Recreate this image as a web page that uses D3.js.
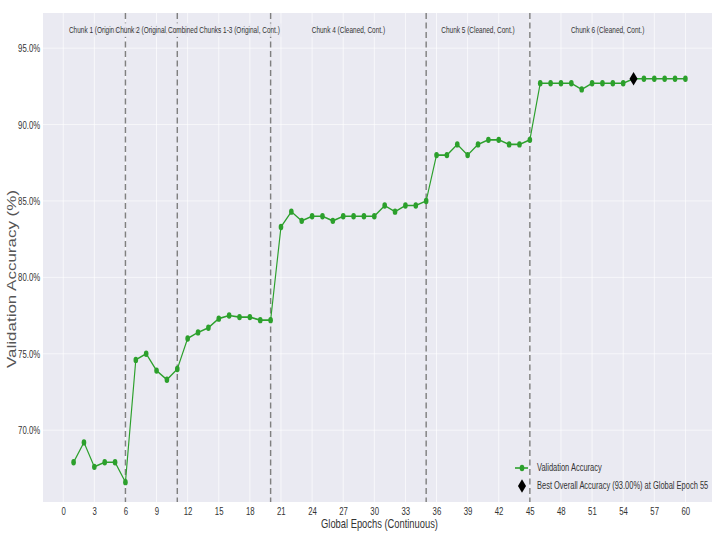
<!DOCTYPE html>
<html>
<head>
<meta charset="utf-8">
<script src="https://cdn.jsdelivr.net/npm/d3@7"></script>
<style>
  html, body { margin: 0; padding: 0; background: #ffffff; }
  svg { display: block; font-family: "Liberation Sans", Arial, sans-serif; }
</style>
</head>
<body>
<svg id="chart" width="712" height="534"></svg>
<script>
// Global epoch index (continuous across all chunks)
const epochs = [
  1, 2, 3, 4, 5, 6,
  7, 8, 9, 10, 11,
  12, 13, 14, 15, 16, 17, 18, 19, 20,
  21, 22, 23, 24, 25, 26, 27, 28, 29, 30, 31, 32, 33, 34, 35,
  36, 37, 38, 39, 40, 41, 42, 43, 44, 45,
  46, 47, 48, 49, 50, 51, 52, 53, 54, 55, 56, 57, 58, 59, 60
];

// Validation accuracy (%) per global epoch
const accuracy = [
  67.9, 69.2, 67.6, 67.9, 67.9, 66.6,
  74.6, 75.0, 73.9, 73.3, 74.0,
  76.0, 76.4, 76.7, 77.3, 77.5, 77.4, 77.4, 77.2, 77.2,
  83.3, 84.3, 83.7, 84.0, 84.0, 83.7, 84.0, 84.0, 84.0, 84.0, 84.7, 84.3, 84.7, 84.7, 85.0,
  88.0, 88.0, 88.7, 88.0, 88.7, 89.0, 89.0, 88.7, 88.7, 89.0,
  92.7, 92.7, 92.7, 92.7, 92.3, 92.7, 92.7, 92.7, 92.7, 93.0, 93.0, 93.0, 93.0, 93.0, 93.0
];

// Last global epoch of each training chunk (dashed separators)
const chunkEnds = [6, 11, 20, 35, 45];

const chunkLabels = [
  "Chunk 1 (Original, Cont.)",
  "Chunk 2 (Original, Cont.)",
  "Combined Chunks 1-3 (Original, Cont.)",
  "Chunk 4 (Cleaned, Cont.)",
  "Chunk 5 (Cleaned, Cont.)",
  "Chunk 6 (Cleaned, Cont.)"
];
const chunkLabelEpochs = [4, 8.5, 15.5, 27.5, 40, 52.5];

const xTicks = [0, 3, 6, 9, 12, 15, 18, 21, 24, 27, 30, 33, 36, 39, 42, 45, 48, 51, 54, 57, 60];
const yTicks = [70, 75, 80, 85, 90, 95];

const seriesName = "Validation Accuracy";
const xTitle = "Global Epochs (Continuous)";
const yTitle = "Validation Accuracy (%)";

// ---- layout ----
// The figure is drawn in a wider coordinate space and compressed horizontally.
const K = 0.72;
const plot = { left: 43 / K, right: 716 / K, top: 13, bottom: 502 };

const svg = d3.select("#chart");
const root = svg.append("g").attr("transform", `scale(${K},1)`);

const x = d3.scaleLinear().domain([-1.95, 62.95]).range([plot.left, plot.right]);
const y = d3.scaleLinear().domain([65.3, 97.3]).range([plot.bottom, plot.top]);

const data = epochs.map((e, i) => ({ epoch: e, acc: accuracy[i] }));
const best = data.reduce((a, b) => (b.acc > a.acc ? b : a));

const green = "#2ca02c";
const textColor = "#333333";

// plot background
root.append("rect")
  .attr("x", plot.left).attr("y", plot.top)
  .attr("width", plot.right - plot.left).attr("height", plot.bottom - plot.top)
  .attr("fill", "#eaeaf2");

// grid
root.append("g").selectAll("line").data(xTicks).join("line")
  .attr("x1", d => x(d)).attr("x2", d => x(d))
  .attr("y1", plot.top).attr("y2", plot.bottom)
  .attr("stroke", "#ffffff").attr("stroke-width", 1.3).attr("stroke-opacity", 0.7);
root.append("g").selectAll("line").data(yTicks).join("line")
  .attr("x1", plot.left).attr("x2", plot.right)
  .attr("y1", d => y(d)).attr("y2", d => y(d))
  .attr("stroke", "#ffffff").attr("stroke-width", 1).attr("stroke-opacity", 0.7);

// axes
const xAxis = root.append("g")
  .attr("transform", `translate(0,${plot.bottom})`)
  .call(d3.axisBottom(x).tickValues(xTicks).tickSize(0).tickPadding(5));
const yAxis = root.append("g")
  .attr("transform", `translate(${plot.left},0)`)
  .call(d3.axisLeft(y).tickValues(yTicks).tickSize(0).tickPadding(4)
    .tickFormat(d => d.toFixed(1) + "%"));
[xAxis, yAxis].forEach(g => {
  g.select(".domain").remove();
  g.attr("font-family", null).attr("font-size", null);
  g.selectAll("text").attr("fill", textColor).attr("font-size", 10.8);
});

// axis titles
root.append("text")
  .attr("x", (plot.left + plot.right) / 2).attr("y", 528)
  .attr("text-anchor", "middle").attr("font-size", 13).attr("fill", textColor)
  .text(xTitle);
root.append("text")
  .attr("transform", `translate(${12 / K},279) rotate(-90)`)
  .attr("text-anchor", "middle").attr("dominant-baseline", "central")
  .attr("font-size", 17).attr("fill", "#555555")
  .text(yTitle);

// chunk separators
root.append("g").selectAll("line").data(chunkEnds).join("line")
  .attr("x1", d => x(d)).attr("x2", d => x(d))
  .attr("y1", plot.top).attr("y2", plot.bottom)
  .attr("stroke", "#808080").attr("stroke-width", 2)
  .attr("stroke-dasharray", "6,3.5");

// chunk labels with translucent boxes, drawn in order so later ones overlap earlier
const labelLayer = root.append("g");
chunkLabels.forEach((lab, i) => {
  const g = labelLayer.append("g");
  const rect = g.append("rect");
  const t = g.append("text")
    .attr("x", x(chunkLabelEpochs[i])).attr("y", 33)
    .attr("text-anchor", "middle").attr("font-size", 9).attr("fill", textColor)
    .text(lab);
  const bb = t.node().getBBox();
  rect.attr("x", bb.x - 2).attr("y", bb.y - 1.5)
    .attr("width", bb.width + 4).attr("height", bb.height + 3)
    .attr("fill", "#eaeaf2").attr("fill-opacity", 0.85);
});

// accuracy line + markers
root.append("path")
  .datum(data)
  .attr("fill", "none").attr("stroke", green).attr("stroke-width", 1.6)
  .attr("d", d3.line().x(d => x(d.epoch)).y(d => y(d.acc)));
root.append("g").selectAll("circle").data(data).join("circle")
  .attr("cx", d => x(d.epoch)).attr("cy", d => y(d.acc)).attr("r", 3.2)
  .attr("fill", green);

// best-accuracy marker
const diamond = (cx, cy, hw, hh) =>
  `M${cx},${cy - hh}L${cx + hw},${cy}L${cx},${cy + hh}L${cx - hw},${cy}Z`;
root.append("path")
  .attr("d", diamond(x(best.epoch), y(best.acc), 5.6, 6.8))
  .attr("fill", "#000000");

// legend
const lg = root.append("g");
const lx = 515 / K, tx = 537 / K;
lg.append("line")
  .attr("x1", lx).attr("x2", 528 / K).attr("y1", 468).attr("y2", 468)
  .attr("stroke", green).attr("stroke-width", 1.6);
lg.append("circle").attr("cx", 522 / K).attr("cy", 468).attr("r", 3.2).attr("fill", green);
lg.append("text").attr("x", tx).attr("y", 471.5)
  .attr("font-size", 10.4).attr("fill", textColor).text(seriesName);
lg.append("path").attr("d", diamond(522 / K, 486, 5.6, 6.8)).attr("fill", "#000000");
lg.append("text").attr("x", tx).attr("y", 489.5)
  .attr("font-size", 10.4).attr("fill", textColor)
  .text(`Best Overall Accuracy (${best.acc.toFixed(2)}%) at Global Epoch ${best.epoch}`);
</script>
</body>
</html>
